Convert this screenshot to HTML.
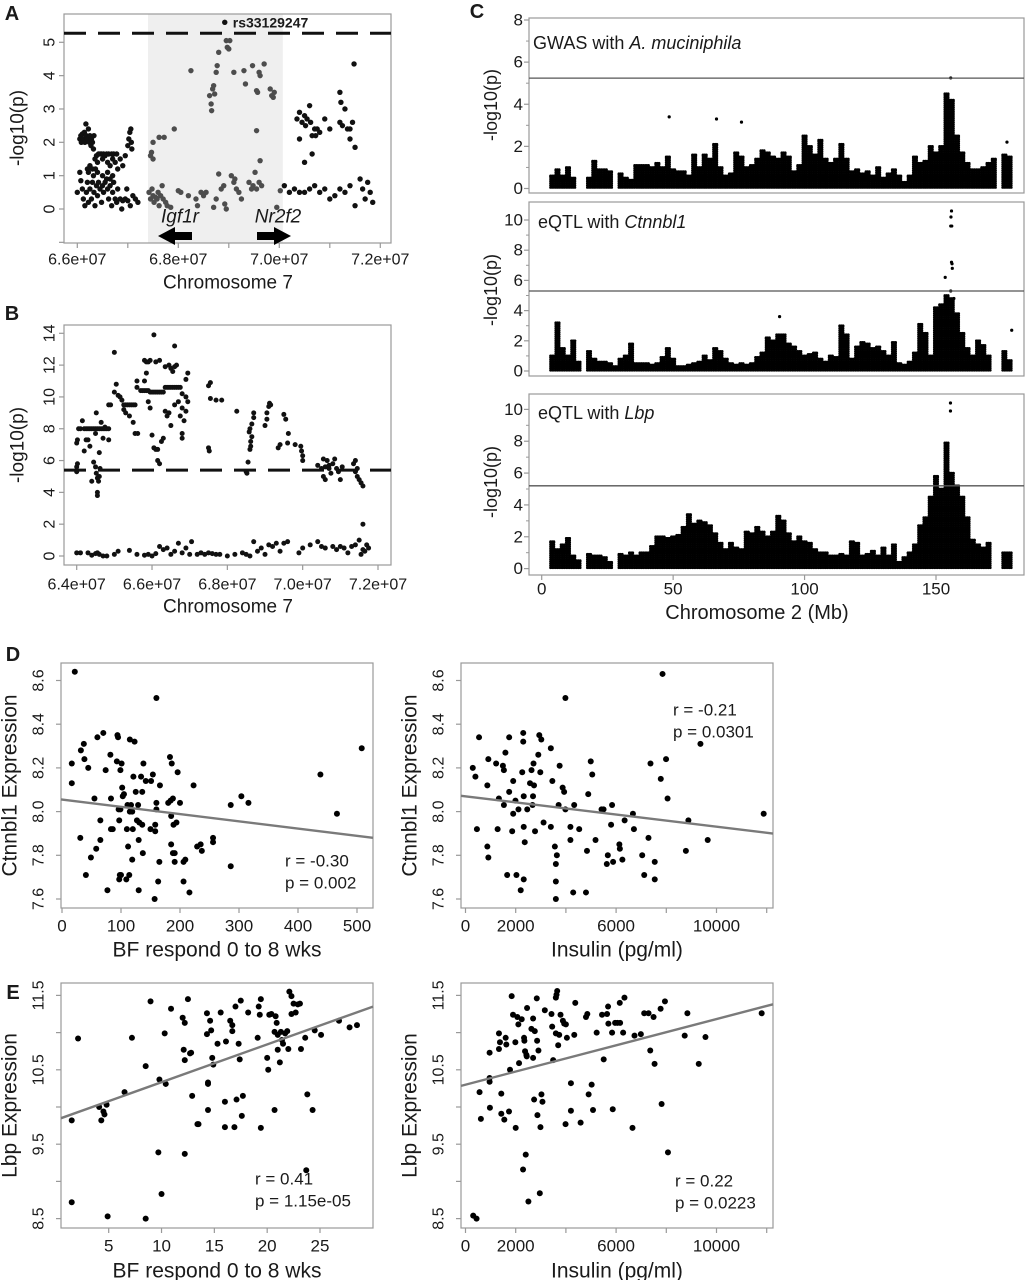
<!DOCTYPE html>
<html><head><meta charset="utf-8">
<style>
html,body{margin:0;padding:0;background:#fff}
svg{display:block;font-family:"Liberation Sans",Arial,sans-serif}
</style></head>
<body>
<svg id="fig" width="1036" height="1280" viewBox="0 0 1036 1280">
  <text x="533" y="43" font-size="18" dominant-baseline="central" fill="#1a1a1a">GWAS with <tspan font-style="italic">A. muciniphila</tspan></text>
  <text x="538" y="222" font-size="18" dominant-baseline="central" fill="#1a1a1a">eQTL with <tspan font-style="italic">Ctnnbl1</tspan></text>
  <text x="538" y="413" font-size="18" dominant-baseline="central" fill="#1a1a1a">eQTL with <tspan font-style="italic">Lbp</tspan></text>
</svg>
<script>
// ---------- DATA ----------
const aPoints=[[66.05,2.1],[66.07,2.2],[66.08,2.0],[66.1,2.25],[66.12,2.1],[66.14,2.3],[66.15,2.0],[66.17,2.55],[66.18,2.2],[66.2,2.1],[66.22,2.4],[66.24,2.0],[66.25,2.2],[66.27,1.9],[66.28,2.1],[66.3,2.0],[66.32,1.8],[66.33,2.2],[66.35,1.5],[66.36,1.2],[66.38,1.6],[66.4,1.4],[66.42,1.65],[66.45,1.65],[66.48,1.65],[66.5,1.5],[66.52,1.65],[66.55,1.6],[66.58,1.65],[66.6,1.4],[66.62,1.65],[66.65,1.3],[66.68,1.65],[66.7,1.5],[66.72,1.65],[66.75,1.4],[66.78,1.65],[66.8,1.2],[66.85,1.5],[66.9,1.3],[66.95,1.6],[67.0,1.9],[67.02,2.1],[67.04,2.3],[67.06,2.4],[67.07,2.0],[67.08,1.8],
[66.2,1.2],[66.22,1.1],[66.25,1.3],[66.3,1.2],[66.32,1.0],[66.4,1.1],[66.5,1.0],[66.6,1.1],[66.65,0.9],[66.7,1.0],
[66.0,0.5],[66.05,1.1],[66.07,0.85],[66.1,0.6],[66.12,0.3],[66.15,0.1],[66.18,0.5],[66.2,0.8],[66.22,0.2],[66.25,0.6],[66.28,0.3],[66.3,0.8],[66.33,0.5],[66.35,0.1],[66.38,0.7],[66.4,0.4],[66.42,0.8],[66.45,0.6],[66.48,0.2],[66.5,0.7],[66.52,0.5],[66.55,0.8],[66.58,0.9],[66.6,0.6],[66.62,0.3],[66.65,0.7],[66.68,0.1],[66.7,0.5],[66.72,0.8],[66.75,0.3],[66.78,0.2],[66.8,0.6],[66.85,0.3],[66.88,0.0],[66.9,0.25],[66.95,0.3],[66.98,0.6],[67.0,0.25],[67.05,0.1],[67.1,0.4],[67.15,0.3],[67.2,0.2],
[67.45,1.6],[67.47,1.7],[67.5,2.0],[67.5,1.5],[67.62,2.15],[67.72,2.15],[67.92,2.4],[68.25,4.15],[68.62,3.4],[68.65,3.15],[68.66,2.95],[68.68,3.6],[68.7,3.7],[68.72,3.45],[68.75,4.1],[68.77,4.3],[68.8,4.7],[68.92,5.6],[68.95,5.05],[68.97,4.85],[69.0,4.8],[69.02,5.05],[69.1,4.1],[69.3,4.15],[69.33,3.75],[69.47,4.3],[69.55,3.55],[69.57,3.5],[69.6,4.1],[69.62,4.0],[69.55,2.35],[69.7,4.35],[69.82,3.6],[69.85,3.4],[69.88,3.35],[69.9,3.5],
[67.42,0.5],[67.45,0.3],[67.48,0.6],[67.5,0.4],[67.52,0.2],[67.55,0.35],[67.58,0.3],[67.6,0.5],[67.62,0.1],[67.65,0.4],[67.68,0.7],[67.7,0.3],[67.75,0.2],[67.78,0.1],[67.85,0.05],[68.0,0.55],[68.05,0.5],[68.2,0.4],[68.35,0.3],[68.38,0.1],[68.45,0.5],[68.5,0.4],[68.55,0.5],[68.7,0.05],[68.75,0.3],[68.8,1.05],[68.85,0.6],[68.9,0.7],[68.92,0.15],[68.95,0.0],[69.05,1.0],[69.1,0.8],[69.12,0.9],[69.15,0.6],[69.2,0.5],[69.25,0.3],[69.4,0.8],[69.45,0.6],[69.48,0.7],[69.52,1.1],[69.55,0.6],[69.6,0.8],[69.62,1.45],[69.65,0.7],[69.95,0.05],
[70.02,0.55],[70.1,0.7],[70.2,0.5],[70.3,0.6],[70.4,0.5],[70.5,0.5],[70.6,0.6],[70.7,0.7],[70.8,0.5],[70.9,0.6],[71.0,0.3],[71.1,0.4],[71.2,0.6],[71.3,0.5],[71.4,0.7],[71.5,0.1],[71.6,0.9],[71.65,0.6],[71.7,0.3],[71.75,0.8],[71.8,0.5],[71.85,0.2],
[70.35,2.7],[70.4,2.9],[70.45,2.6],[70.5,2.8],[70.52,2.5],[70.55,2.7],[70.6,3.1],[70.62,2.6],[70.65,2.2],[70.7,2.4],[70.72,2.2],[70.75,2.4],[70.8,2.3],[70.4,2.1],[70.5,1.4],[70.65,1.65],[70.9,2.7],[71.0,2.4],[71.2,3.5],[71.22,3.2],[71.3,3.0],[71.2,2.6],[71.25,2.5],[71.35,2.4],[71.4,2.4],[71.45,2.6],[71.4,2.1],[71.5,1.85],[71.48,4.35]];
const aShade=[67.4,70.07];
const aThreshold=[5.27];
const aLeadSnp=[68.92,5.6];
const bPoints=[[64.0,5.3],[64.0,5.6],[64.02,5.8],[64.0,7.1],[64.02,7.3],[64.05,8.0],[64.1,8.0],[64.15,8.5],[64.2,8.0],[64.25,8.0],[64.3,8.0],[64.35,8.0],[64.4,8.0],[64.45,8.0],[64.5,8.0],[64.55,8.0],[64.6,8.0],[64.65,8.0],[64.7,8.0],[64.75,8.0],[64.8,8.0],[64.85,8.0],[64.2,6.6],[64.25,7.3],[64.3,7.3],[64.35,6.9],[64.4,4.7],[64.45,5.9],[64.5,5.6],[64.52,5.2],[64.55,4.9],[64.55,4.0],[64.55,3.8],[64.58,4.7],[64.6,5.0],[64.62,5.5],[64.6,6.5],[64.5,7.7],[64.52,9.0],[64.65,8.4],[64.7,7.4],[64.75,8.1],[64.85,7.3],[64.85,9.5],
[64.9,9.5],[65.0,10.3],[65.05,10.8],[65.1,10.1],[65.15,10.0],[65.2,9.8],[65.25,9.5],[65.3,9.5],[65.35,9.5],[65.4,9.5],[65.45,9.5],[65.5,9.5],[65.55,9.5],[65.25,9.2],[65.3,9.0],[65.4,8.8],[65.5,8.4],[65.55,7.7],[65.62,7.7],[65.6,10.6],[65.6,11.0],[65.0,12.8],
[65.7,10.4],[65.75,10.4],[65.8,10.4],[65.85,10.4],[65.9,10.4],[65.95,10.3],[66.0,10.3],[66.05,10.3],[66.1,10.3],[66.15,10.3],[66.2,10.3],[66.25,10.3],[66.3,10.3],[66.35,10.6],[66.4,10.6],[66.45,10.6],[66.5,10.6],[66.55,10.6],[66.6,10.6],[66.65,10.6],[66.7,10.6],[66.75,10.6],
[65.8,12.3],[65.85,12.2],[65.9,12.2],[65.95,12.3],[66.1,12.2],[66.2,12.3],[66.35,11.9],[66.45,12.0],[66.5,11.8],[66.55,11.6],[66.6,11.9],[66.65,12.0],
[65.8,11.0],[65.85,11.5],[65.9,9.7],[65.95,9.3],[66.0,7.6],[66.05,6.8],[66.1,6.7],[66.15,6.7],[66.15,6.0],[66.2,5.8],[66.25,7.2],[66.3,7.4],[66.35,9.1],[66.4,8.8],[66.45,9.0],[66.5,8.2],[66.6,9.5],[66.7,9.7],[66.75,8.8],[66.8,9.3],[66.85,8.5],[66.9,9.1],[66.9,10.0],[66.95,9.7],[66.8,7.7],[66.8,7.4],[66.9,11.1],[66.95,11.5],[66.6,13.2],[66.05,13.9],[66.8,10.2],
[67.5,10.7],[67.55,10.9],[67.5,6.8],[67.52,6.6],[67.55,9.9],[67.7,9.8],[67.85,9.8],[68.25,9.1],
[68.5,5.3],[68.55,5.9],[68.6,6.7],[68.62,7.2],[68.65,7.5],[68.6,8.0],[68.65,8.3],[68.7,8.7],[68.7,9.0],[68.62,6.9],[68.58,7.8],[68.52,5.2],
[69.0,8.2],[69.05,8.6],[69.05,9.0],[69.1,9.4],[69.12,9.6],[69.15,9.5],[69.35,6.8],[69.4,7.0],[69.5,8.9],[69.55,8.6],[69.6,7.1],[69.62,7.7],[69.8,7.0],[69.95,6.9],[69.97,6.6],[70.0,6.0],[70.0,6.3],
[70.4,5.7],[70.5,5.5],[70.55,5.0],[70.6,5.6],[70.65,6.0],[70.7,5.5],[70.75,5.2],[70.8,5.8],[70.85,6.1],[70.9,5.5],[70.95,5.3],[71.0,4.8],[71.05,5.6],[71.35,5.8],[71.4,5.3],[71.45,5.0],[71.5,4.8],[71.55,4.6],[71.6,4.4],[71.4,6.0],[71.45,5.5],[70.6,4.8],[70.7,5.7],[70.55,6.1],[71.6,2.0],
[64.0,0.2],[64.1,0.2],[64.3,0.2],[64.4,0.05],[64.5,0.15],[64.55,0.2],[64.6,0.1],[64.7,0.0],[64.8,0.0],[65.0,0.1],[65.1,0.3],[65.4,0.35],[65.6,0.1],[65.8,0.05],[65.9,0.1],[66.0,0.0],[66.1,0.15],[66.2,0.6],[66.3,0.4],[66.4,0.5],[66.5,0.1],[66.6,0.3],[66.7,0.8],[66.8,0.2],[66.9,0.5],[67.0,0.1],[67.05,0.9],[67.2,0.1],[67.3,0.2],[67.4,0.1],[67.5,0.2],[67.6,0.15],[67.7,0.1],[67.8,0.1],[68.0,0.0],[68.2,0.1],[68.4,0.2],[68.5,0.1],[68.6,0.0],[68.7,0.9],[68.8,0.3],[68.9,0.5],[69.0,0.1],[69.1,0.7],[69.2,0.6],[69.3,0.8],[69.4,0.3],[69.5,0.8],[69.6,0.9],[69.9,0.2],[70.0,0.5],[70.2,0.7],[70.4,0.9],[70.5,0.6],[70.6,0.5],[70.8,0.6],[70.9,0.4],[71.0,0.6],[71.1,0.5],[71.2,0.2],[71.3,0.6],[71.4,0.7],[71.5,1.0],[71.6,0.4],[71.65,0.3],[71.7,0.7],[71.55,0.1],[71.75,0.5]];
const bThreshold=[5.4];
const cBinStart=4, cBinWidth=2;
const cGwasMax=[0.6,0.9,0.6,1.0,0.5, 0,0, 0.5,1.3,0.9,0.9,0.8, 0,0.7,0.5,0.4, 1.1,1.1,1.1,1.0,1.2, 1.0,1.5,0.9,0.8,0.8, 0.6,1.6,1.0,1.6,1.4, 2.1,1.0,0.6,0.7,1.7, 1.5,1.0,1.1,1.4,1.8, 1.7,1.5,1.4,1.7,1.5, 0.8,1.1,2.5,2.0,1.6, 2.3,1.4,1.2,1.4,2.1, 1.4,0.8,0.9,0.7,0.8, 0.6,1.0,0.5,0.7,0.9, 0.6,0.3,0.6,1.5,1.2, 1.3,2.0,1.7,2.0,4.5, 4.2,2.5,1.7,1.2,0.9, 0.9,1.0,1.2,1.4,0, 1.6,1.5,0,0];
const cCtnnbl1Max=[1.0,3.2,1.5,1.0,2.0, 0.6,0, 1.3,0.8,0.6,0.6,0.5, 0.3,0.8,1.0,1.8, 0.5,0.5,0.5,0.4,0.5, 0.9,1.5,0.8,0.3,0.3, 0.4,0.5,0.6,1.0,0.7, 1.5,1.3,0.8,0.5,0.4, 0.5,0.4,0.5,0.9,1.2, 2.2,2.0,2.4,2.4,1.8, 1.6,1.3,1.0,1.1,1.2, 0.8,0.6,1.0,0.9,3.0, 2.4,0.8,1.6,1.9,1.8, 1.5,1.6,1.3,1.0,1.9, 0.5,0.4,0.6,1.2,3.1, 2.5,1.0,4.2,4.4,5.0, 4.8,3.8,2.5,1.5,1.0, 2.0,1.7,1.0,0,0, 1.3,0.7,0,0];
const cLbpMax=[1.7,1.2,1.5,1.9,0.8, 0.5,0, 0.9,0.8,0.8,0.7,0.4, 0,0.9,0.8,1.0, 0.8,1.0,1.0,1.4,2.0, 2.0,1.9,2.0,2.1,2.6, 3.4,2.8,3.0,2.9,2.7, 2.2,1.6,1.2,1.6,1.3, 1.2,2.3,2.2,2.6,2.3, 2.0,2.3,3.3,3.0,2.2, 1.7,2.0,1.7,1.6,1.2, 1.0,1.0,0.8,0.8,0.9, 0.8,1.7,1.6,0.8,0.9, 1.1,0.8,1.3,0.8,1.5, 0.4,0.7,1.0,1.5,2.7, 3.2,4.5,5.8,5.0,7.9, 6.0,5.2,4.5,3.2,1.8, 1.5,1.3,1.6,0,0, 1.0,1.0,0,0];
const cGwasOutliers=[[48.5,3.4],[66.5,3.3],[76,3.15],[155.6,5.25],[177,2.2]];
const cCtnnbl1Outliers=[[90.5,3.6],[178.8,2.7],[153.5,6.2],[155.9,10.6],[155.7,10.2],[155.6,9.6],[156.0,9.6],[155.9,7.2],[156.1,7.1],[156.2,6.8],[156.8,4.8],[155.6,5.3]];
const cLbpOutliers=[[155.5,10.4],[155.5,9.9]];
const cThresholds=[5.24,5.3,5.2];
const dBfX=[21.7,160,16.6,16.6,31,37,38,32,44.5,40.5,49,55,58,60,65,65,70,74,77,82,83,83,86,93,94,95,96,99,97,99,101,102,103,105,98,100,97,110,111,112,114,109,115,123,115,119,117,121,120,119,125,127,129,130,130,131,136,137,134,136,138,142,150,154,151,158,158,160,160,163,165,166,157,180,184,183,186,185,185,188,189,188,191,191,194,196,200,206,209,206,216,223,229,235,237,256,256,286,286,304,316,438,466,508];
const dBfY=[8.64,8.52,8.22,8.13,7.88,8.31,8.24,8.28,8.20,7.71,7.79,8.06,7.83,8.34,7.96,7.87,8.36,8.19,7.64,8.26,8.06,7.92,7.92,8.23,8.35,8.34,8.01,8.01,7.96,8.19,8.22,8.11,8.07,8.08,7.71,7.71,7.69,7.92,8.03,7.84,7.71,7.69,8.33,8.32,8.0,8.0,8.03,8.16,7.92,7.78,8.09,7.96,8.03,7.87,7.64,7.95,7.94,7.81,8.16,8.09,8.22,8.14,7.92,8.17,8.14,7.94,7.91,8.04,8.01,7.68,7.77,8.12,7.6,8.04,8.05,8.25,8.22,7.98,7.85,8.06,7.94,7.81,7.81,7.77,7.95,8.18,8.04,7.77,7.78,7.68,7.63,8.12,7.84,7.85,7.82,7.88,7.86,7.75,8.03,8.07,8.04,8.17,7.99,8.29];
const dBfFit=[8.055,-0.000332];
const dInsX=[290,395,540,455,870,910,870,910,1220,1330,1280,1530,1490,1590,1530,1740,1740,1660,1900,1860,1900,1990,2030,2110,2200,2320,2260,2300,2300,2320,2320,2360,2460,2570,2630,2710,2730,2690,2670,2770,2900,2980,2940,3020,3110,3400,3460,3400,3560,3600,3600,3600,3640,3710,3750,3870,3930,3980,3980,4180,4180,4290,4330,4530,4800,4840,4890,4990,5050,5180,5420,5500,5630,5670,5800,5840,5880,6130,6150,6250,6340,6670,6710,7040,7120,7290,7370,7540,7540,7780,7850,7990,8050,8780,8880,9360,9650,11880];
const dInsY=[8.20,8.16,8.34,7.92,8.12,8.24,7.84,7.79,8.22,8.06,7.92,8.19,8.21,8.27,8.03,8.34,8.09,7.71,8.14,7.91,7.99,8.05,7.71,8.01,7.64,7.69,8.18,8.36,8.32,8.07,7.93,7.86,8.01,8.13,8.19,8.22,8.12,8.07,8.03,7.91,8.26,8.18,8.35,8.33,7.95,8.29,8.14,7.93,7.84,7.76,7.68,7.6,7.80,8.03,8.21,8.11,8.09,8.01,8.52,7.93,7.87,7.63,8.03,7.92,7.63,7.82,8.08,8.23,8.17,7.87,8.01,8.01,7.76,7.80,7.94,8.03,7.77,7.85,7.83,7.78,7.96,7.99,7.92,7.80,7.71,7.88,8.22,7.69,7.77,8.15,8.63,8.24,8.06,7.82,7.96,8.31,7.87,7.99];
const dInsFit=[8.07,-0.0000139];
const eBfX=[1.5,1.5,2.1,4.1,4.3,4.5,4.6,4.8,4.9,6.5,7.2,8.5,8.5,8.96,9.7,9.8,10,10.3,10.4,10.9,12,12.1,12.2,12.2,12.2,12.5,12.7,12.8,12.9,13.4,13.5,14.3,14.3,14.4,14.4,14.4,14.6,14.7,14.8,14.9,15.3,15.6,16,16,16.1,16.5,16.7,16.7,16.9,17.0,17.1,17.3,17.4,17.5,17.6,17.7,18.2,19.1,19.2,19.3,19.4,19.4,20.0,20.1,20.2,20.4,20.7,20.7,20.8,20.9,21,21,21.2,21.3,21.4,21.5,21.7,21.9,22,22.1,22.3,22.5,22.3,22.7,22.9,23.1,23.2,23.6,23.8,23.7,24.3,24.5,25.1,26.8,27.8,28.5];
const eBfY=[9.82,8.72,10.92,10.0,9.82,9.94,9.9,10.03,8.53,10.2,10.93,10.55,8.50,11.42,9.39,10.37,8.83,10.99,10.31,11.32,11.2,10.77,11.13,10.63,9.37,11.45,10.72,10.73,10.15,9.77,9.77,11.26,10.98,10.33,10.31,9.96,11.16,11.03,10.66,10.57,10.85,11.27,10.07,9.73,10.88,11.16,11.02,11.1,9.73,11.35,10.1,10.85,10.64,11.43,9.88,10.15,11.27,10.93,11.35,11.24,11.45,9.72,10.66,10.5,11.24,11.25,9.96,11.01,11.22,11.13,10.97,10.77,10.6,11.01,10.9,10.85,10.99,11.02,10.78,11.55,11.49,11.39,11.25,11.27,11.38,11.39,10.78,10.93,10.17,9.15,9.96,11.03,10.97,11.16,11.07,11.1];
const eBfFit=[9.825,0.0508];
const eInsX=[307,440,560,613,960,960,960,973,1333,1333,1373,1426,1426,1546,1600,1626,1733,1773,1840,1893,2000,1986,2066,2106,2133,2240,2293,2333,2346,2373,2400,2426,2453,2440,2506,2626,2693,2693,2733,2760,2840,2853,2866,2906,2960,2986,3026,3066,3160,3426,3453,3493,3600,3626,3653,3600,3693,3733,3786,3880,3933,4000,4040,3986,4200,4200,4333,4373,4586,4800,4853,4906,5026,5080,5226,5440,5506,5640,5680,5693,5840,5866,5960,6053,6146,6160,6280,6333,6653,6733,6986,7120,7293,7360,7493,7533,7773,7813,7946,8066,8733,8840,9293,9560,11800];
const eInsY=[8.54,8.5,10.2,9.84,10.73,10.39,10.34,9.99,10.99,10.78,10.87,10.18,9.91,9.83,10.93,10.84,9.94,10.5,11.49,11.24,9.72,10.87,11.21,11.11,10.59,11.18,9.16,10.93,10.89,10.75,9.36,10.7,11.33,10.68,8.73,11.05,11.19,10.66,10.1,11.02,11.46,10.89,9.89,10.76,8.84,9.73,10.17,10.07,11.3,11.25,11.08,10.63,11.47,11.51,11.56,10.99,10.83,10.97,11.24,11.16,11.12,11.11,10.93,9.77,10.32,9.95,10.97,11.4,9.79,11.21,11.25,10.17,10.3,9.96,11.0,11.24,10.64,11.25,11.35,11.12,11.0,9.97,11.13,11.13,11.4,11.13,11.0,11.47,9.72,10.96,10.98,11.26,11.26,10.76,11.21,10.58,11.32,10.04,11.42,9.39,10.96,11.26,10.58,10.94,11.26];
const eInsFit=[10.3,0.0000882];

// ---------- HELPERS ----------
const NS='http://www.w3.org/2000/svg';
const fig=document.getElementById('fig');
function lin(d0,d1,r0,r1){return v=>r0+(v-d0)*(r1-r0)/(d1-d0);}
function mk(tag,parent){const e=document.createElementNS(NS,tag);(parent||fig).appendChild(e);return e;}
function group(name){
  const g=mk('g');
  
  
  return g;
}
function text(g,x,y,s,size,name,opt){
  opt=opt||{};
  const t=mk('text',g);
  t.setAttribute('x',x);t.setAttribute('y',y);
  t.setAttribute('font-size',size);
  t.setAttribute('text-anchor',opt.anchor||'middle');
  t.setAttribute('dominant-baseline','central');
  t.setAttribute('fill','#1a1a1a');
  if(opt.rot) t.setAttribute('transform','rotate(-90 '+x+' '+y+')');
  if(opt.bold) t.setAttribute('font-weight','bold');
  if(opt.italic) t.setAttribute('font-style','italic');
  t.textContent=s;
  
  
  return t;
}
function line(g,x1,y1,x2,y2,stroke,w,name,dash){
  const l=mk('line',g);
  l.setAttribute('x1',x1);l.setAttribute('y1',y1);l.setAttribute('x2',x2);l.setAttribute('y2',y2);
  l.setAttribute('stroke',stroke);l.setAttribute('stroke-width',w);
  if(dash) l.setAttribute('stroke-dasharray',dash);
  
  
  return l;
}
function frame(g,x0,y0,x1,y1,name){
  const r=mk('rect',g);
  r.setAttribute('x',x0);r.setAttribute('y',y0);r.setAttribute('width',x1-x0);r.setAttribute('height',y1-y0);
  r.setAttribute('fill','none');r.setAttribute('stroke','#999');r.setAttribute('stroke-width','1.2');
  
  
  return r;
}
function dot(g,x,y,r,fill,name){
  const c=mk('circle',g);
  c.setAttribute('cx',x.toFixed(2));c.setAttribute('cy',y.toFixed(2));c.setAttribute('r',r);c.setAttribute('fill',fill);
  
  
  return c;
}
function xAxis(g,sc,vals,labels,yb,ly,size,pfx){
  vals.forEach((v,i)=>{
    line(g,sc(v),yb,sc(v),yb+5,'#999',1.2,pfx+'-x-tick');
    if(labels[i]!=='') text(g,sc(v),ly,labels[i],size,pfx+'-x-tick-label');
  });
}
function yAxis(g,sc,vals,labels,xl,lx,size,pfx,rot,anchor){
  vals.forEach((v,i)=>{
    line(g,xl-5,sc(v),xl,sc(v),'#999',1.2,pfx+'-y-tick');
    if(labels[i]!=='') text(g,lx,sc(v),labels[i],size,pfx+'-y-tick-label',{rot:rot,anchor:anchor});
  });
}

// ---------- PANEL A ----------
(function(){
  const g=group('panel-a');
  const X0=64,X1=391,Y0=14,Y1=243;
  const sx=lin(66,72,77.3,380.3), sy=lin(0,5,209,42.3);
  const sh=mk('rect',g);
  sh.setAttribute('x',sx(aShade[0]));sh.setAttribute('y',Y0);sh.setAttribute('width',sx(aShade[1])-sx(aShade[0]));sh.setAttribute('height',Y1-Y0);sh.setAttribute('fill','#efefef');
  
  
  frame(g,X0,Y0,X1,Y1,'panel-a-frame');
  line(g,X0,sy(aThreshold[0]),X1,sy(aThreshold[0]),'#111',3,'significance-threshold','22 12');
  aPoints.forEach(p=>{
    const inS=p[0]>=aShade[0]&&p[0]<=aShade[1];
    dot(g,sx(p[0]),sy(p[1]),2.7,inS?'#4d4d4d':'#111','snp-point');
  });
  dot(g,sx(aLeadSnp[0]),sy(aLeadSnp[1]),2.6,'#111','lead-snp-point');
  text(g,sx(aLeadSnp[0])+8,sy(aLeadSnp[1]),'rs33129247',14,'lead-snp-label',{anchor:'start',bold:true});
  xAxis(g,sx,[66,67,68,69,70,71,72],['6.6e+07','','6.8e+07','','7.0e+07','','7.2e+07'],Y1,260,16,'panel-a');
  yAxis(g,sy,[-1,0,1,2,3,4,5],['','0','1','2','3','4','5'],X0,50,16,'panel-a',true);
  text(g,228,283,'Chromosome 7',19,'panel-a-x-title');
  text(g,18,128,'-log10(p)',19,'panel-a-y-title',{rot:true});
  text(g,12,14,'A',20,'panel-a-label',{bold:true});
  text(g,180,217,'Igf1r',19,'igf1r-gene-label',{italic:true});
  text(g,278,217,'Nr2f2',19,'nr2f2-gene-label',{italic:true});
  const a1=mk('polygon',g);a1.setAttribute('points','158,236 175,227 175,232 192,232 192,240 175,240 175,245');a1.setAttribute('fill','#000');
  
  
  const a2=mk('polygon',g);a2.setAttribute('points','291,236 274,227 274,232 257,232 257,240 274,240 274,245');a2.setAttribute('fill','#000');
  
  
})();

// ---------- PANEL B ----------
(function(){
  const g=group('panel-b');
  const X0=64,X1=391,Y0=325,Y1=565;
  const sx=lin(64,72,76.7,378), sy=lin(0,14,556,333.3);
  frame(g,X0,Y0,X1,Y1,'panel-b-frame');
  line(g,X0,sy(bThreshold[0]),X1,sy(bThreshold[0]),'#111',3,'significance-threshold','22 12');
  bPoints.forEach(p=>dot(g,sx(p[0]),sy(p[1]),2.5,'#111','snp-point'));
  xAxis(g,sx,[64,66,68,70,72],['6.4e+07','6.6e+07','6.8e+07','7.0e+07','7.2e+07'],Y1,585,16,'panel-b');
  yAxis(g,sy,[0,2,4,6,8,10,12,14],['0','2','4','6','8','10','12','14'],X0,50,16,'panel-b',true);
  text(g,228,607,'Chromosome 7',19,'panel-b-x-title');
  text(g,18,445,'-log10(p)',19,'panel-b-y-title',{rot:true});
  text(g,12,314,'B',20,'panel-b-label',{bold:true});
})();

// ---------- PANEL C ----------
(function(){
  const g=group('panel-c');
  const X0=529,X1=1024;
  const sx=lin(0,150,541.7,936);
  const panels=[
    {name:'gwas',max:cGwasMax,out:cGwasOutliers,y0:18,y1:193,sy:lin(0,8,188.5,20),ticks:[0,2,4,6,8],minor:[1,3,5,7],thr:cThresholds[0],ty:105},
    {name:'ctnnbl1-eqtl',max:cCtnnbl1Max,out:cCtnnbl1Outliers,y0:202,y1:376,sy:lin(0,10,371,220),ticks:[0,2,4,6,8,10],minor:[1,3,5,7,9],thr:cThresholds[1],ty:290},
    {name:'lbp-eqtl',max:cLbpMax,out:cLbpOutliers,y0:394,y1:575,sy:lin(0,10,568.6,409.4),ticks:[0,2,4,6,8,10],minor:[1,3,5,7,9],thr:cThresholds[2],ty:482}
  ];
  panels.forEach(P=>{
    const pg=group('manhattan-'+P.name);
    frame(pg,X0,P.y0,X1,P.y1,P.name+'-frame');
    const pxUnit=P.sy(0)-P.sy(1);
    const step=2.1/pxUnit;
    P.max.forEach((m,i)=>{
      if(m<=0) return;
      const c=cBinStart+i*cBinWidth;
      [-0.65,0,0.65].forEach(o=>{
        for(let v=0.05;v<=m+1e-9;v+=step){
          dot(pg,sx(c+o),P.sy(v),1.35,'#000','snp-point');
        }
        dot(pg,sx(c+o),P.sy(m),1.35,'#000','snp-point');
      });
    });
    P.out.forEach(p=>dot(pg,sx(p[0]),P.sy(p[1]),1.6,'#000','snp-point'));
    line(pg,X0,P.sy(P.thr),X1,P.sy(P.thr),'#555',1.3,P.name+'-threshold');
    yAxis(pg,P.sy,P.ticks,P.ticks.map(String),X0,523,17,P.name,false,'end');
    P.minor.forEach(v=>line(pg,X0-3,P.sy(v),X0,P.sy(v),'#999',1,P.name+'-minor-tick'));
    text(pg,491,P.ty,'-log10(p)',18,P.name+'-y-title',{rot:true});
  });
  xAxis(g,sx,[0,50,100,150],['0','50','100','150'],575,589,17,'panel-c');
  text(g,757,613,'Chromosome 2 (Mb)',20,'panel-c-x-title');
  text(g,477,12,'C',20,'panel-c-label',{bold:true});
})();

// ---------- PANELS D & E ----------
function scatter(name,X0,X1,Y0,Y1,xs,ys,xv,yv,fit,xt,xl,yt,yl,xTitle,yTitle,stats,statX,statY,tickY,titleY,yTickX,yTitleX){
  const g=group(name);
  frame(g,X0,Y0,X1,Y1,name+'-frame');
  xv.forEach((v,i)=>dot(g,xs(v),ys(yv[i]),3,'#000','data-point'));
  const xa=(X0-xs(0))/(xs(1)-xs(0)), xb=(X1-xs(0))/(xs(1)-xs(0));
  line(g,X0,ys(fit[0]+fit[1]*xa),X1,ys(fit[0]+fit[1]*xb),'#7a7a7a',2.4,'regression-line');
  xAxis(g,xs,xt,xl,Y1,tickY,17,name);
  yAxis(g,ys,yt,yl,X0,yTickX,16,name,true);
  text(g,(X0+X1)/2,titleY,xTitle,21,name+'-x-title');
  text(g,yTitleX,(Y0+Y1)/2,yTitle,21,name+'-y-title',{rot:true});
  text(g,statX,statY,stats[0],17,'correlation-r',{anchor:'start'});
  text(g,statX,statY+22,stats[1],17,'correlation-p',{anchor:'start'});
}
const dYs=lin(7.6,8.6,899,680.5), eYs=lin(8.5,11.5,1218.6,995.4);
const insTicks=[0,2000,4000,6000,8000,10000,12000], insLabels=['0','2000','','6000','','10000',''];
scatter('panel-d-bf',61,373,663,908,lin(0,500,62,357),dYs,dBfX,dBfY,dBfFit,[0,100,200,300,400,500],['0','100','200','300','400','500'],[7.6,7.8,8.0,8.2,8.4,8.6],['7.6','7.8','8.0','8.2','8.4','8.6'],'BF respond 0 to 8 wks','Ctnnbl1 Expression',['r = -0.30','p = 0.002'],285,861,926,950,39,10);
scatter('panel-d-insulin',461,773,663,908,lin(0,10000,465.5,716.5),dYs,dInsX,dInsY,dInsFit,insTicks,insLabels,[7.6,7.8,8.0,8.2,8.4,8.6],['7.6','7.8','8.0','8.2','8.4','8.6'],'Insulin (pg/ml)','Ctnnbl1 Expression',['r = -0.21','p = 0.0301'],673,710,926,950,439,410);
scatter('panel-e-bf',61,373,983,1228,lin(5,25,108.7,320),eYs,eBfX,eBfY,eBfFit,[5,10,15,20,25],['5','10','15','20','25'],[8.5,9,9.5,10,10.5,11,11.5],['8.5','','9.5','','10.5','','11.5'],'BF respond 0 to 8 wks','Lbp Expression',['r = 0.41','p = 1.15e-05'],255,1179,1246,1271,39,10);
scatter('panel-e-insulin',461,773,983,1228,lin(0,10000,465.5,716.5),eYs,eInsX,eInsY,eInsFit,insTicks,insLabels,[8.5,9,9.5,10,10.5,11,11.5],['8.5','','9.5','','10.5','','11.5'],'Insulin (pg/ml)','Lbp Expression',['r = 0.22','p = 0.0223'],675,1181,1246,1271,439,410);
(function(){
  const g=group('panel-labels-de');
  text(g,13,655,'D',20,'panel-d-label',{bold:true});
  text(g,13,993,'E',20,'panel-e-label',{bold:true});
})();
</script>
</body></html>
